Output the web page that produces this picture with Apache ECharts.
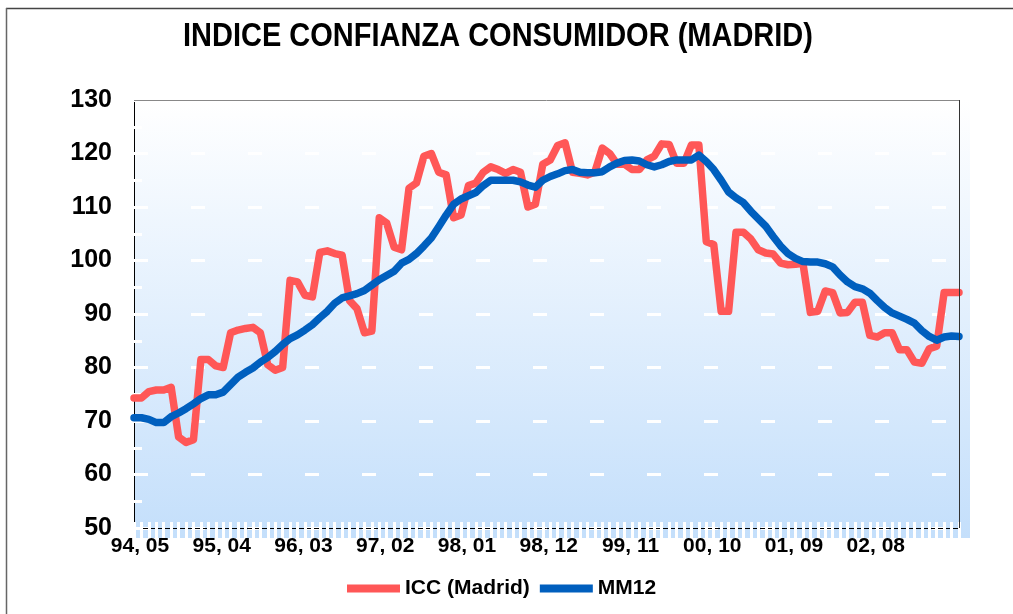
<!DOCTYPE html>
<html>
<head>
<meta charset="utf-8">
<script src="https://cdn.jsdelivr.net/npm/echarts@6/dist/echarts.min.js"></script>
<style>html,body{margin:0;padding:0;background:#fff}#c{width:1013px;height:614px}</style>
</head>
<body>
<div id="c"></div>
<script>
const categories = [
"94, 05","94, 06","94, 07","94, 08","94, 09","94, 10","94, 11","94, 12",
"95, 01","95, 02","95, 03","95, 04","95, 05","95, 06","95, 07","95, 08","95, 09","95, 10","95, 11","95, 12",
"96, 01","96, 02","96, 03","96, 04","96, 05","96, 06","96, 07","96, 08","96, 09","96, 10","96, 11","96, 12",
"97, 01","97, 02","97, 03","97, 04","97, 05","97, 06","97, 07","97, 08","97, 09","97, 10","97, 11","97, 12",
"98, 01","98, 02","98, 03","98, 04","98, 05","98, 06","98, 07","98, 08","98, 09","98, 10","98, 11","98, 12",
"99, 01","99, 02","99, 03","99, 04","99, 05","99, 06","99, 07","99, 08","99, 09","99, 10","99, 11","99, 12",
"00, 01","00, 02","00, 03","00, 04","00, 05","00, 06","00, 07","00, 08","00, 09","00, 10","00, 11","00, 12",
"01, 01","01, 02","01, 03","01, 04","01, 05","01, 06","01, 07","01, 08","01, 09","01, 10","01, 11","01, 12",
"02, 01","02, 02","02, 03","02, 04","02, 05","02, 06","02, 07","02, 08","02, 09","02, 10","02, 11","02, 12",
"03, 01","03, 02","03, 03","03, 04","03, 05","03, 06","03, 07","03, 08"
];
const icc = [
74.3,74.3,75.5,75.8,75.8,76.3,67,66,66.5,81.5,
81.5,80.3,80,86.5,87,87.3,87.5,86.5,80.5,79.5,
80,96.3,96,93.5,93.2,101.5,101.8,101.3,101,92.5,
91,86.5,86.8,108,107,102.5,102,113.5,114.5,119.5,
120,116.5,116,108,108.5,114,114.5,116.5,117.5,117,
116.3,117,116.5,110,110.5,118,118.8,121.5,122,116.5,
116.3,116,116.5,121,120,118,118,117,117,118.8,
119.5,121.8,121.7,118.2,118.2,121.6,121.6,103.5,103,90.5,
90.5,105.3,105.3,104,102,101.4,101.2,99.5,99.2,99.3,
99.5,90.3,90.5,94.3,94,90.2,90.3,92.2,92.2,86,
85.7,86.5,86.5,83.3,83.3,81,80.8,83.5,84,94,
94,94
];
const mm12 = [
70.6,70.6,70.3,69.7,69.7,70.8,71.5,72.3,73.2,74.2,
74.9,74.9,75.4,76.8,78.2,79.1,79.9,81,81.9,83,
84.3,85.4,86.1,87,88,89.3,90.5,92,93,93.4,
93.8,94.4,95.4,96.4,97.2,98,99.5,100.2,101.3,102.7,
104.2,106.3,108.5,110.5,111.5,112.1,112.7,114,115,115,
115,115,114.7,114.1,113.7,115,115.7,116.2,116.8,117,
116.5,116.4,116.4,116.6,117.5,118.2,118.7,118.8,118.6,117.9,
117.5,117.9,118.5,118.8,118.8,118.8,119.7,118.5,117,115,
112.8,111.7,110.8,109.2,107.8,106.4,104.5,102.7,101.3,100.4,
99.8,99.7,99.7,99.4,98.8,97.3,96,95.1,94.7,93.9,
92.5,91.2,90.2,89.6,89,88.3,86.9,85.8,85.1,85.7,
85.9,85.8
];
const yTicks = {min: 50, max: 130, interval: 10};
const titleText = 'INDICE CONFIANZA CONSUMIDOR (MADRID)';

const FONT = "'Liberation Sans', Arial, sans-serif";
const chart = echarts.init(document.getElementById('c'), null, {renderer: 'canvas'});
const labelInterval = (idx) => idx % 11 === 0 && idx < 100;
chart.setOption({
  animation: false,
  backgroundColor: '#ffffff',
  legend: {
    left: 342, top: 573,
    icon: 'rect', itemWidth: 53, itemHeight: 8, itemGap: 10,
    textStyle: {fontFamily: FONT, fontSize: 21, fontWeight: 'bold', color: '#000'},
    data: ['ICC (Madrid)', 'MM12']
  },
  grid: {left: 134, top: 100, right: 54, bottom: 86, containLabel: false},
  graphic: [
    {type: 'rect', z: -100, silent: true, shape: {x: 134, y: 100, width: 836, height: 438},
     style: {fill: new echarts.graphic.LinearGradient(0, 0, 0, 1, [{offset: 0, color: '#ffffff'}, {offset: 1, color: '#c4dffb'}])}},
    {type: 'line', z: 100, silent: true, shape: {x1: 134, y1: 100.5, x2: 959, y2: 100.5}, style: {stroke: '#888', lineWidth: 1}},
    {type: 'line', z: 100, silent: true, shape: {x1: 959.5, y1: 100, x2: 959.5, y2: 528}, style: {stroke: '#333', lineWidth: 1}},
    {type: 'line', z: 100, silent: true, shape: {x1: 6, y1: 8.5, x2: 1013, y2: 8.5}, style: {stroke: '#444', lineWidth: 1.5}},
    {type: 'line', z: 100, silent: true, shape: {x1: 6.5, y1: 8, x2: 6.5, y2: 614}, style: {stroke: '#666', lineWidth: 1.5}},
    {type: 'text', z: 100, silent: true, x: 183, y: 20, scaleX: 0.853, scaleY: 1,
     style: {text: titleText, fill: '#000', font: "bold 34px 'Liberation Sans', Arial, sans-serif", textAlign: 'left', textVerticalAlign: 'top'}}
  ],
  xAxis: [
    {
      type: 'category', data: categories, boundaryGap: false,
      axisLine: {show: true, lineStyle: {color: '#000', width: 1}},
      axisTick: {show: true, interval: 0, length: 10, lineStyle: {color: '#fff', width: 3}},
      axisLabel: {interval: labelInterval, fontFamily: FONT, fontSize: 21, fontWeight: 'bold', color: '#000', margin: 8, padding: [0,0,0,12]},
      splitLine: {show: false}
    },
    {
      type: 'category', data: categories, boundaryGap: false, position: 'bottom',
      axisLine: {show: false},
      axisTick: {show: true, inside: true, interval: 0, length: 6, lineStyle: {color: '#fff', width: 3}},
      axisLabel: {show: false},
      splitLine: {show: false}
    }
  ],
  yAxis: {
    type: 'value', min: yTicks.min, max: yTicks.max, interval: yTicks.interval,
    axisLine: {show: true, lineStyle: {color: '#000', width: 1}},
    axisTick: {show: true, inside: true, length: 8, lineStyle: {color: '#fff', width: 3}},
    minorTick: {show: true, splitNumber: 2, length: 8, lineStyle: {color: '#fff', width: 3}},
    axisLabel: {fontFamily: FONT, fontSize: 25, fontWeight: 'bold', color: '#000', margin: 22},
    splitLine: {show: true, lineStyle: {color: '#ffffff', width: 3, type: [14, 43]}}
  },
  series: [
    {name: 'ICC (Madrid)', type: 'line', data: icc, showSymbol: false, symbol: 'none',
     lineStyle: {color: '#ff5757', width: 7.5, join: 'round', cap: 'round'}, itemStyle: {color: '#ff5757'}, z: 3},
    {name: 'MM12', type: 'line', data: mm12, showSymbol: false, symbol: 'none',
     lineStyle: {color: '#005fbe', width: 7.5, join: 'round', cap: 'round'}, itemStyle: {color: '#005fbe'}, z: 4}
  ]
});
</script>
</body>
</html>
